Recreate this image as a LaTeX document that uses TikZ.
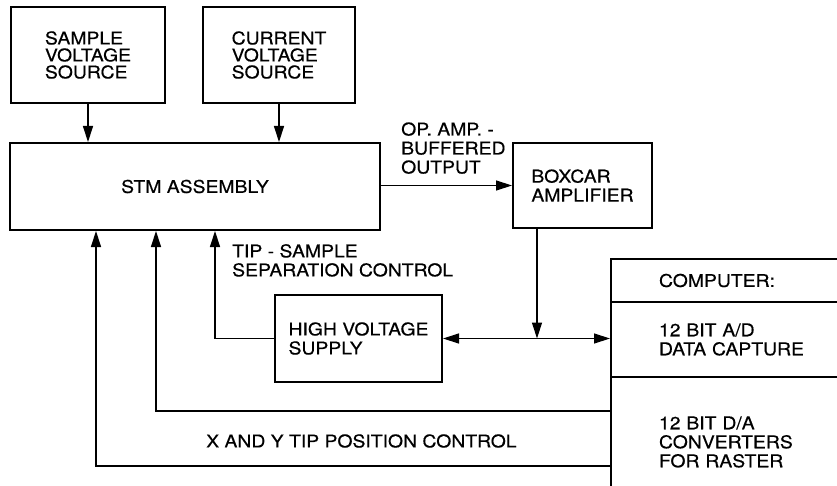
\documentclass[tikz,border=0pt]{standalone}
\usepackage{fontspec}
\setmainfont{TeX Gyre Heros}[FakeStretch=1.1, FakeBold=0.4]
\usetikzlibrary{arrows.meta}

\tikzset{
  blk/.style={draw, line width=2pt, align=left, inner sep=0pt},
  compsec/.style={draw, line width=2pt, anchor=north west, align=left,
    text width=300pt, inner xsep=48pt, inner ysep=0pt},
  conn/.style={line width=1.3pt, -{Triangle[length=16pt,width=10pt]}},
  lbl/.style={align=left, inner sep=0pt},
}

\begin{document}
\begin{tikzpicture}[x=1pt, y=-1pt, font=\fontsize{17.6}{19}\selectfont]
  \clip (0,0) rectangle (837,486);

  % sources and STM
  \node[blk, minimum width=154pt, minimum height=96pt, font=\fontsize{17.6}{17}\selectfont] (sample) at (88,55) {SAMPLE\\VOLTAGE\\SOURCE};
  \node[blk, minimum width=152pt, minimum height=96pt, font=\fontsize{17.6}{17}\selectfont] (current) at (279,55) {CURRENT\\VOLTAGE\\SOURCE};
  \node[blk, minimum width=370pt, minimum height=87pt] (stm) at (195,186.5) {STM ASSEMBLY};
  \node[blk, minimum width=139pt, minimum height=85pt] (boxcar) at (582.5,185.5) {BOXCAR\\AMPLIFIER};
  \node[blk, minimum width=167pt, minimum height=87pt] (hv) at (358.5,338.5) {HIGH VOLTAGE\\SUPPLY};

  % computer
  \node[compsec, minimum height=43pt] (comp1) at (610,258) {COMPUTER:};
  \node[compsec, minimum height=75pt] (comp2) at (610,301) {12 BIT A/D\\DATA CAPTURE};
  \node[compsec, minimum height=130pt] (comp3) at (610,376) {12 BIT D/A\\CONVERTERS\\FOR RASTER};

  % connectors
  \draw[conn] (sample.south) -- (sample.south |- stm.north);
  \draw[conn] (current.south) -- (current.south |- stm.north);
  \draw[conn] (stm.east |- boxcar.west) -- (boxcar.west);
  \node[lbl, anchor=south west] (oplbl) at (401,174) {OP.\ AMP.\ -\\BUFFERED\\OUTPUT};

  \coordinate (junc) at (537,338.5);
  \draw[conn] (boxcar.south -| junc) -- (junc);
  \draw[line width=1.3pt, {Triangle[length=16pt,width=10pt]}-{Triangle[length=16pt,width=10pt]}] (hv.east) -- (hv.east -| comp2.west);

  \draw[conn] (hv.west) -| ([xshift=206pt]stm.south west);
  \node[lbl, anchor=north west] (tiplbl) at (232,244) {TIP - SAMPLE\\SEPARATION CONTROL};

  \draw[conn] ([yshift=-35pt]comp3.north west) -| ([xshift=147pt]stm.south west);
  \draw[conn] ([yshift=-90pt]comp3.north west) -| ([xshift=87pt]stm.south west);
  \node[lbl, anchor=west] (xylbl) at (206,441) {X AND Y TIP POSITION CONTROL};
\end{tikzpicture}
\end{document}
